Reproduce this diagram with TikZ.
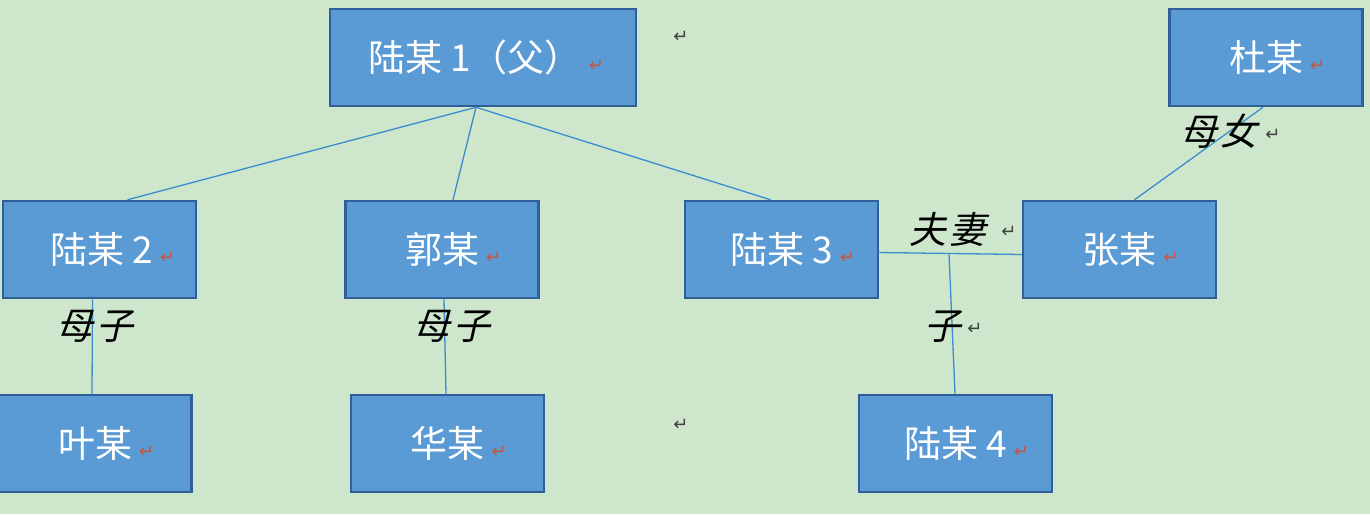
\documentclass[tikz,border=0pt]{standalone}
\usepackage{fontspec}
\usetikzlibrary{calc}
\newfontfamily\cjk{Noto Sans CJK SC}
\newfontfamily\cjkit[FakeSlant=0.22,LetterSpace=8]{Noto Sans CJK SC}
\newfontfamily\symf{DejaVu Sans}
\definecolor{bg}{HTML}{CDE6CC}
\definecolor{boxfill}{HTML}{5B9BD5}
\definecolor{boxdraw}{HTML}{2F5F96}
\definecolor{linkc}{HTML}{3A8ED0}
\definecolor{markred}{HTML}{C8553A}
\newcommand{\rmark}{\rlap{\symf\fontsize{18}{18}\selectfont\color{markred}\hspace{7pt}↵}}
\newcommand{\bmark}{{\symf\fontsize{18}{18}\selectfont\color{black!75}↵}}
\tikzset{
  box/.style={draw=boxdraw, line width=2.5pt, fill=boxfill, minimum width=193pt, minimum height=97pt, inner sep=0pt, text=white, font=\cjk\fontsize{37}{37}\selectfont},
  link/.style={draw=linkc, line width=1.3pt},
  rel/.style={font=\cjkit\fontsize{37}{37}\selectfont, text=black, inner sep=0pt},
  pmark/.style={inner sep=0pt}
}
\begin{document}
\begin{tikzpicture}[x=1pt,y=-1pt]
\path[fill=bg] (0,0) rectangle (1370,514);
\useasboundingbox (0,0) rectangle (1370,514);
% boxes
\node[box, minimum width=306pt] (p1) at (483,57.5) {\hspace{-16pt}陆某 1（父）\rmark};
\node[box] (du) at (1266,57.5) {杜某\rmark};
\node[box] (p2) at (99.5,249.5) {\hspace{4pt}陆某 2\rmark};
\node[box] (guo) at (442,249.5) {郭某\rmark};
\node[box] (p3) at (781.5,249.5) {陆某 3\rmark};
\node[box] (zhang) at (1119.5,249.5) {张某\rmark};
\node[box] (ye) at (95,443.5) {叶某\rmark};
\node[box] (hua) at (447.5,443.5) {华某\rmark};
\node[box] (p4) at (955.5,443.5) {陆某 4\rmark};
% connection points
\coordinate (p1b) at ($(p1.south)+(-7,0)$);
\coordinate (j) at (949,254);
% connectors
\path[link] (p1b) -- ($(p2.north)+(28,0)$);
\path[link] (p1b) -- ($(guo.north)+(11,0)$);
\path[link] (p1b) -- ($(p3.north)+(-11,0)$);
\path[link] ($(p2.south)+(-7,0)$) -- ($(ye.north)+(-3,0)$);
\path[link] ($(guo.south)+(2,0)$) -- ($(hua.north)+(-1.5,0)$);
\path[link] ($(p3.east)+(0,3)$) -- ($(zhang.west)+(0,5)$);
\path[link] (j) -- ($(p4.north)+(-0.5,0)$);
\path[link] ($(du.south)+(-3,0)$) -- ($(zhang.north)+(15,0)$);
% relation labels
\node[rel] (l1) at (95,326) {母子};
\node[rel] (l2) at (452,326) {母子};
\node[rel] (l3) at (948,229) {夫妻};
\node[rel] (l4) at (943,327) {子};
\node[rel] (l5) at (1219,131) {母女};
% paragraph marks
\node[pmark] (m1) at (681,37) {\bmark};
\node[pmark] (m2) at (681,425) {\bmark};
\node[pmark] (m3) at (1009,232) {\bmark};
\node[pmark] (m4) at (975,329) {\bmark};
\node[pmark] (m5) at (1273,135) {\bmark};
\end{tikzpicture}
\end{document}
